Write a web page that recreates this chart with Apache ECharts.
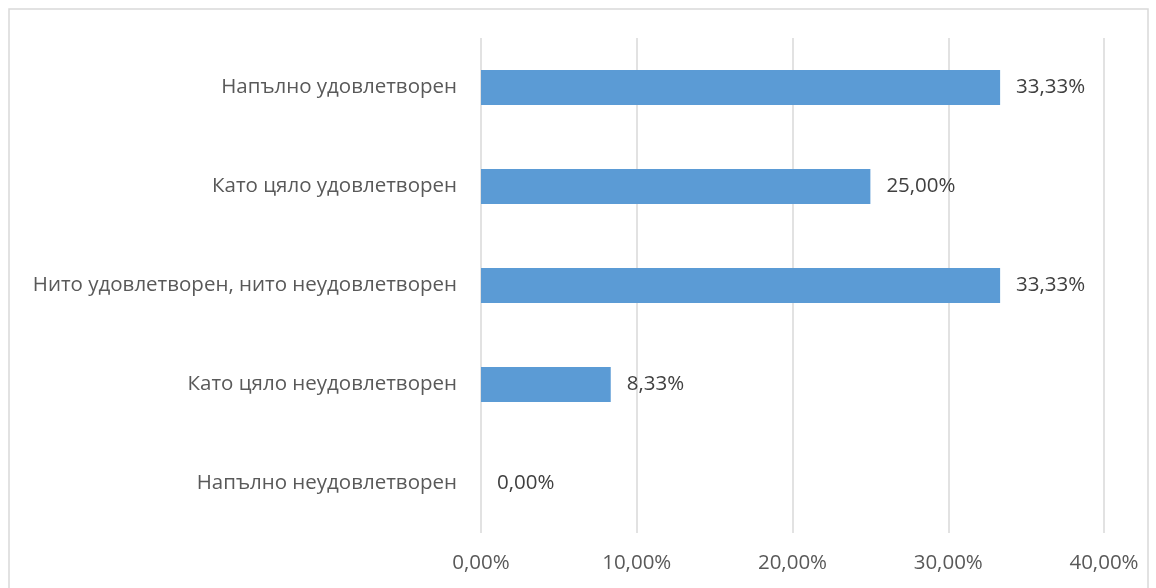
<!DOCTYPE html>
<html><head><meta charset="utf-8">
<script src="https://cdn.jsdelivr.net/npm/echarts@6/dist/echarts.min.js"></script>
<style>html,body{margin:0;padding:0;background:#fff}#c{width:1156px;height:588px}</style>
</head><body><div id="c"></div>
<script>
const categories = ['Напълно неудовлетворен','Като цяло неудовлетворен','Нито удовлетворен, нито неудовлетворен','Като цяло удовлетворен','Напълно удовлетворен'];
const values = [0.00, 8.33, 33.33, 25.00, 33.33];
const xTicks = [0, 10, 20, 30, 40];
const fmt = v => v.toFixed(2).replace('.', ',') + '%';
const chart = echarts.init(document.getElementById('c'), null, {renderer:'canvas'});
chart.setOption({
  animation:false,
  graphic:[{type:'rect', shape:{x:9,y:9,width:1139,height:600}, style:{fill:'none', stroke:'#d9d9d9', lineWidth:1.5}}],
  grid:{left:481, right:52, top:38, bottom:55},
  xAxis:{type:'value', min:xTicks[0], max:xTicks[xTicks.length-1], interval:10,
    axisLine:{show:false}, axisTick:{show:false},
    splitLine:{lineStyle:{color:'#d9d9d9', width:1.5}},
    axisLabel:{formatter:fmt, color:'#595959', fontFamily:'Open Sans', fontSize:20.5, margin:20}},
  yAxis:{type:'category', data:categories, axisLine:{show:false}, axisTick:{show:false},
    axisLabel:{color:'#595959', fontFamily:'Open Sans', fontSize:20.5, margin:24}},
  series:[{type:'bar', data:values, barWidth:35, itemStyle:{color:'#5b9bd5'},
    label:{show:true, position:'right', distance:16, formatter:p=>fmt(p.value), color:'#404040', fontFamily:'Open Sans', fontSize:20.5}}]
});
</script></body></html>
